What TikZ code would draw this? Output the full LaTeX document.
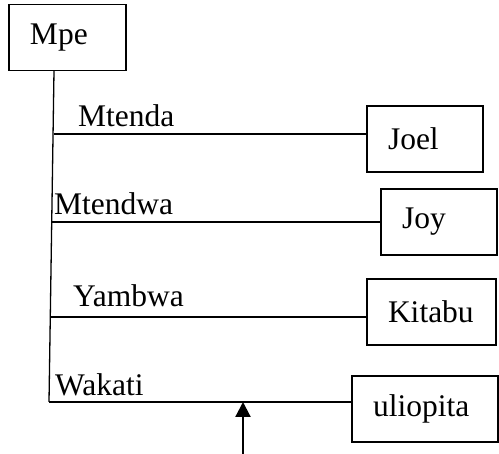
\documentclass[tikz,border=0pt]{standalone}
\usepackage{fontspec}
\setmainfont{Liberation Serif}
\usetikzlibrary{arrows.meta}
\begin{document}
\begin{tikzpicture}[x=1pt,y=-1pt,
  box/.style={draw,line width=1.6pt,rectangle,inner xsep=21pt,inner ysep=0pt,minimum height=66pt,align=left,font=\fontsize{31.5}{31.5}\selectfont},
  lbl/.style={anchor=base west,inner sep=0pt,font=\fontsize{31.5}{31.5}\selectfont},
  ln/.style={line width=1.3pt}]
\useasboundingbox (0,0) rectangle (499,454);
\node[box,text width=75pt] (mpe) at (67.5,37.5) {Mpe};
\node[box,text width=74pt] (joel) at (425,139) {Joel};
\node[box,text width=74pt] (joy) at (439,222) {Joy};
\node[box,text width=87pt] (kitabu) at (431.5,312) {Kitabu};
\node[box,text width=104pt] (uliopita) at (425,409) {uliopita};
\coordinate (vtop) at (54,71);
\coordinate (vbot) at (49,402);
\coordinate (a1) at (53.6,134);
\coordinate (a2) at (52.3,222);
\coordinate (a3) at (50.4,317);
\coordinate (arrbase) at (243,454);
\coordinate (arrtip) at (243,402);
\draw[ln] (vtop) -- (vbot);
\draw[ln] (a1) -- (a1 -| joel.west);
\draw[ln,line width=1.7pt] (a2) -- (a2 -| joy.west);
\draw[ln] (a3) -- (a3 -| kitabu.west);
\draw[ln] (vbot) -- (vbot -| uliopita.west);
\node[lbl] (t1) at (78,127) {Mtenda};
\node[lbl] (t2) at (54,215) {Mtendwa};
\node[lbl] (t3) at (73,307) {Yambwa};
\node[lbl] (t4) at (55,396) {Wakati};
\draw[line width=2.2pt,-{Triangle[width=15pt,length=15pt]}] (arrbase) -- (arrtip);
\end{tikzpicture}
\end{document}
